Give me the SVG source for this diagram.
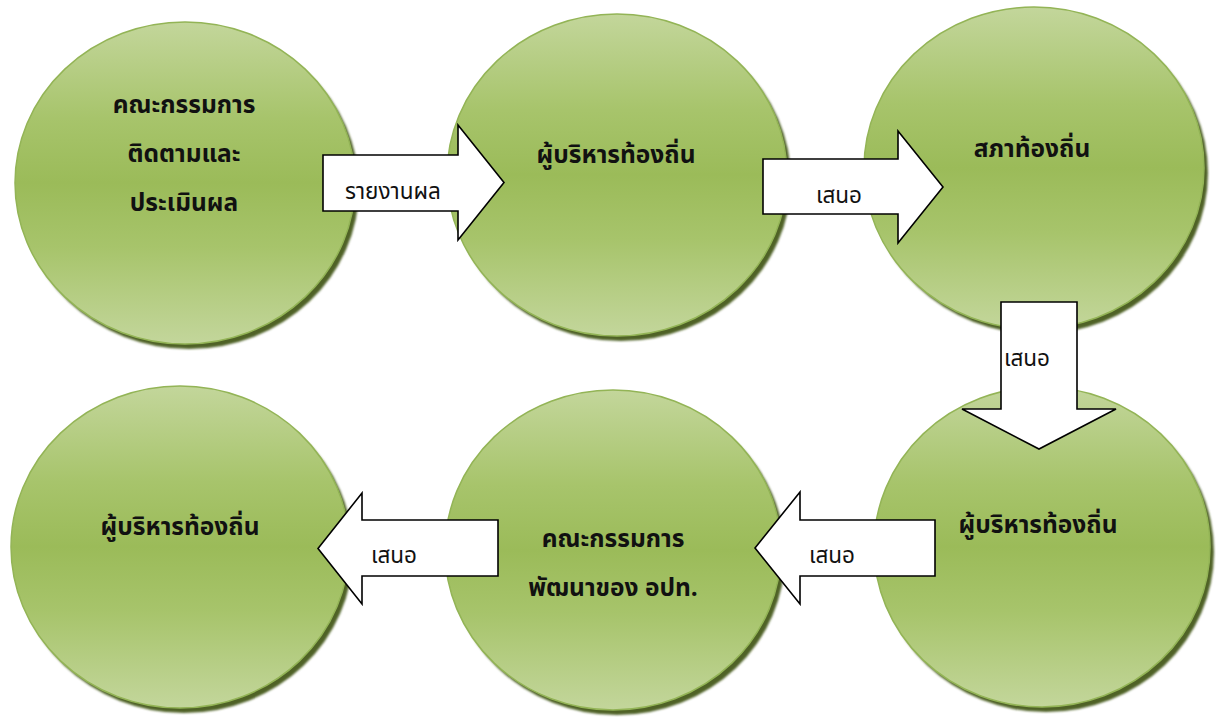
<svg xmlns="http://www.w3.org/2000/svg" width="1216" height="720" viewBox="0 0 1216 720">
<style>
.shadow{fill:#4f6228}
.ball{fill:url(#g);stroke:#93b456;stroke-width:1.5}
.node{font-family:"Tahoma","Noto Sans Thai","Noto Sans",sans-serif;font-weight:bold;font-size:24.5px;fill:#111;text-anchor:middle}
.lab{font-family:"Tahoma","Noto Sans Thai","Noto Sans",sans-serif;font-size:22.5px;fill:#111}
.arrow{fill:#fff;stroke:#000;stroke-width:1.6;stroke-linejoin:miter}
</style>
<defs>
<linearGradient id="g" x1="0" y1="0" x2="0" y2="1">
<stop offset="0" stop-color="#c3d69b"/>
<stop offset="0.3" stop-color="#a7c46b"/>
<stop offset="0.5" stop-color="#9bbb59"/>
<stop offset="0.7" stop-color="#a7c46b"/>
<stop offset="1" stop-color="#c3d69b"/>
</linearGradient>
<filter id="blur" x="-10%" y="-10%" width="120%" height="120%"><feGaussianBlur stdDeviation="0.8"/></filter>
</defs>
<rect width="1216" height="720" fill="#fff"/>

<g id="n1">
<ellipse class="shadow" cx="189" cy="188" rx="170" ry="161" filter="url(#blur)"/>
<ellipse class="ball" cx="185" cy="183" rx="170" ry="161"/>
<text class="node" x="184" y="113">คณะกรรมการ</text>
<text class="node" x="184" y="162">ติดตามและ</text>
<text class="node" x="184" y="211">ประเมินผล</text>
</g>
<g id="n2">
<ellipse class="shadow" cx="621" cy="180" rx="170" ry="161" filter="url(#blur)"/>
<ellipse class="ball" cx="617" cy="175" rx="170" ry="161"/>
<text class="node" x="616" y="163">ผู้บริหารท้องถิ่น</text>
</g>
<g id="n3">
<ellipse class="shadow" cx="1038" cy="173" rx="170" ry="161" filter="url(#blur)"/>
<ellipse class="ball" cx="1034" cy="168" rx="170" ry="161"/>
<text class="node" x="1032" y="157">สภาท้องถิ่น</text>
</g>
<g id="n4">
<ellipse class="shadow" cx="1046" cy="552" rx="168" ry="160" filter="url(#blur)"/>
<ellipse class="ball" cx="1042" cy="547" rx="168" ry="160"/>
<text class="node" x="1038" y="533">ผู้บริหารท้องถิ่น</text>
</g>
<g id="n5">
<ellipse class="shadow" cx="617" cy="555" rx="168" ry="160" filter="url(#blur)"/>
<ellipse class="ball" cx="613" cy="550" rx="168" ry="160"/>
<text class="node" x="613" y="547">คณะกรรมการ</text>
<text class="node" x="613" y="596">พัฒนาของ อปท.</text>
</g>
<g id="n6">
<ellipse class="shadow" cx="184" cy="552" rx="169" ry="161" filter="url(#blur)"/>
<ellipse class="ball" cx="180" cy="547" rx="169" ry="161"/>
<text class="node" x="180" y="535">ผู้บริหารท้องถิ่น</text>
</g>

<g id="connectors">
<g id="a1">
<path class="arrow" d="M323,155 H458 V125 L504,182.5 L458,240 V211 H323 Z"/>
<text class="lab" x="345" y="199">รายงานผล</text>
</g>
<g id="a2">
<path class="arrow" d="M763,159 H898 V131 L943,187 L898,243 V214 H763 Z"/>
<text class="lab" x="816" y="203">เสนอ</text>
</g>
<g id="a3">
<path class="arrow" d="M1001,302 H1077 V409 H1116 L1039,449 L962,409 H1001 Z"/>
<text class="lab" x="1004" y="366">เสนอ</text>
</g>
<g id="a4">
<path class="arrow" d="M935,520 H800 V492 L755,548 L800,604 V576 H935 Z"/>
<text class="lab" x="809" y="563">เสนอ</text>
</g>
<g id="a5">
<path class="arrow" d="M498,520 H362 V493 L318,548.5 L362,604 V576 H498 Z"/>
<text class="lab" x="371" y="563">เสนอ</text>
</g>
</g>
</svg>
